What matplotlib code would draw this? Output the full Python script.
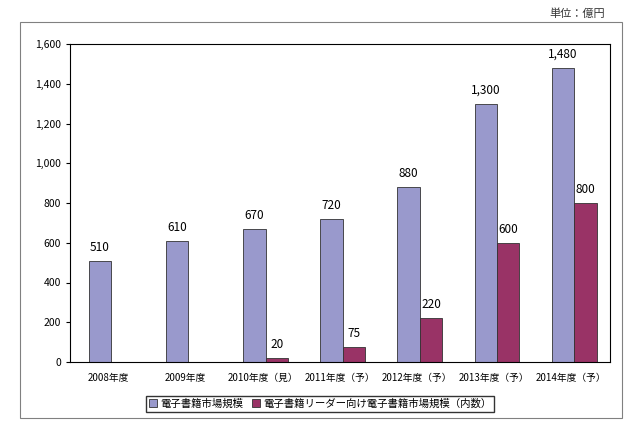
import matplotlib
matplotlib.use("Agg")
import matplotlib.pyplot as plt
import numpy as np
from matplotlib.patches import Rectangle

plt.rcParams["font.family"] = ["Noto Sans CJK JP", "DejaVu Sans"]

categories = ["2008年度", "2009年度", "2010年度（見）", "2011年度（予）", "2012年度（予）", "2013年度（予）", "2014年度（予）"]
market = [510, 610, 670, 720, 880, 1300, 1480]
reader = [np.nan, np.nan, 20, 75, 220, 600, 800]
yticks = [0, 200, 400, 600, 800, 1000, 1200, 1400, 1600]

fig = plt.figure(figsize=(6.4, 4.26), dpi=100)
fig.patches.append(Rectangle((20/640, 1-418/426), 602/640, 396/426, transform=fig.transFigure,
                             fill=False, edgecolor="#808080", linewidth=0.8))
ax = fig.add_axes([70/640, 1-362/426, 540/640, 318/426])
x = np.arange(len(categories))
w = 0.29
o1, o2 = -0.11, 0.18
ax.bar(x + o1, market, w, color="#9999CC", edgecolor="#333333", linewidth=0.6, label="電子書籍市場規模")
ax.bar(x + o2, reader, w, color="#993366", edgecolor="#333333", linewidth=0.6, label="電子書籍リーダー向け電子書籍市場規模（内数）")
for xi, v in zip(x, market):
    ax.text(xi + o1, v + 35, f"{v:,}", ha="center", va="bottom", fontsize=8.5)
for xi, v in zip(x, reader):
    if not np.isnan(v):
        ax.text(xi + o2, v + 35, f"{int(v):,}", ha="center", va="bottom", fontsize=8.5)
ax.set_xlim(-0.5, len(categories) - 0.5)
ax.set_ylim(0, 1600)
ax.set_yticks(yticks)
ax.set_yticklabels([f"{t:,}" for t in yticks], fontsize=7.5)
ax.set_xticks(x)
ax.set_xticklabels(categories, fontsize=7)
ax.tick_params(axis="x", length=0, pad=8)
ax.tick_params(axis="y", length=3)
for s in ax.spines.values():
    s.set_linewidth(0.8)
fig.legend(loc="center", bbox_to_anchor=(0.5, 1-404/426), ncol=2, fontsize=7.5,
           frameon=True, fancybox=False, edgecolor="black", handlelength=0.8,
           handleheight=0.8, columnspacing=0.8, handletextpad=0.3, borderpad=0.3)
fig.text(605/640, 1-14/426, "単位：億円", ha="right", va="center", fontsize=8, color="#333333")
fig.savefig("out.png", dpi=100)
